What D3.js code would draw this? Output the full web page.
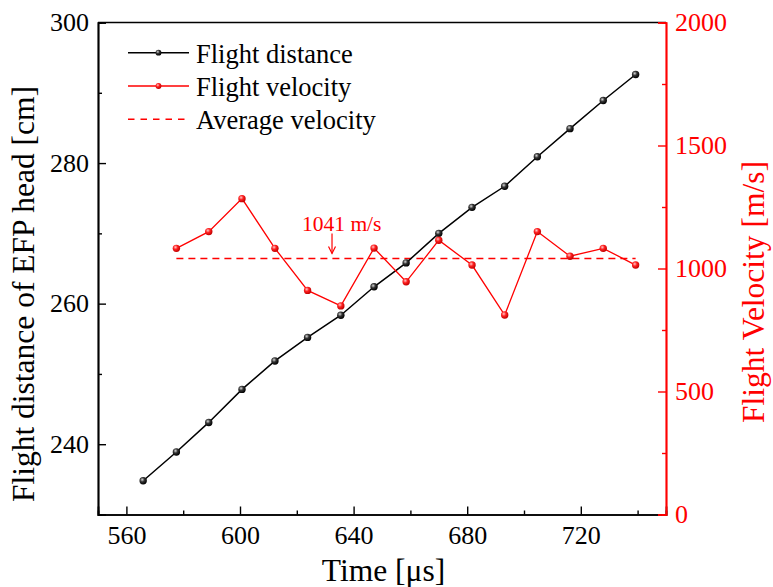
<!DOCTYPE html>
<html>
<head>
<meta charset="utf-8">
<script src="https://cdn.jsdelivr.net/npm/d3@7"></script>
<style>
  html, body { margin: 0; padding: 0; background: #fff; }
  svg { display: block; font-family: "Liberation Serif", "Times New Roman", serif; }
</style>
</head>
<body>
<svg id="chart" width="773" height="587"></svg>
<script>
// Flight time of the EFP head [μs]
const times = [565.9, 577.6, 589.0, 600.7, 612.3, 623.8, 635.5, 647.2, 658.5, 670.0, 681.7, 693.2, 704.7, 716.2, 727.9, 739.3];
// Flight distance [cm], one per time step
const distances = [234.8, 238.9, 243.1, 247.8, 251.85, 255.2, 258.35, 262.4, 265.8, 270.0, 273.7, 276.7, 280.9, 284.9, 288.9, 292.6];
// Flight velocity [m/s], from the second time step on
const velocityTimes = times.slice(1);
const velocities = [1082, 1150, 1284, 1082, 911, 848, 1083, 946, 1115, 1014, 811, 1150, 1050, 1082, 1014];
const averageVelocity = 1041;
const annotationTime = 632.4;

const xTicks = [560, 600, 640, 680, 720];
const xMinorTicks = [580, 620, 660, 700, 740];
const yLeftTicks = [240, 260, 280, 300];
const yLeftMinorTicks = [250, 270, 290];
const yRightTicks = [0, 500, 1000, 1500, 2000];
const yRightMinorTicks = [250, 750, 1250, 1750];

const legendLabels = ["Flight distance", "Flight velocity", "Average velocity"];

const RED = "#ff0000";
const svg = d3.select("#chart");
const M = { left: 98, right: 666, top: 22.5, bottom: 514.5 };

const x = d3.scaleLinear().domain([550, 750]).range([M.left, M.right]);
const yL = d3.scaleLinear().domain([230, 300]).range([M.bottom, M.top]);
const yR = d3.scaleLinear().domain([0, 2000]).range([M.bottom, M.top]);

// shaded ball markers
const defs = svg.append("defs");
function ball(id, light, mid, dark) {
  const g = defs.append("radialGradient").attr("id", id)
    .attr("cx", "38%").attr("cy", "35%").attr("r", "65%");
  g.append("stop").attr("offset", "0%").attr("stop-color", light);
  g.append("stop").attr("offset", "45%").attr("stop-color", mid);
  g.append("stop").attr("offset", "100%").attr("stop-color", dark);
}
ball("ballBlack", "#d8d8d8", "#333", "#000");
ball("ballRed", "#ffc8c8", "#ff2020", "#c00000");

const fontTick = 26;

// bottom axis
const gx = svg.append("g").attr("transform", `translate(0,${M.bottom})`)
  .call(d3.axisBottom(x).tickValues(xTicks).tickSize(-8).tickPadding(9).tickFormat(d3.format("d")));
svg.append("g").attr("transform", `translate(0,${M.bottom})`)
  .call(d3.axisBottom(x).tickValues(xMinorTicks).tickSize(-4).tickFormat(""));

// left axis
svg.append("g").attr("transform", `translate(${M.left},0)`)
  .call(d3.axisLeft(yL).tickValues(yLeftTicks).tickSize(-8).tickPadding(9).tickFormat(d3.format("d")));
svg.append("g").attr("transform", `translate(${M.left},0)`)
  .call(d3.axisLeft(yL).tickValues(yLeftMinorTicks).tickSize(-4).tickFormat(""));

// top frame line
svg.append("line").attr("x1", M.left).attr("x2", M.right).attr("y1", M.top).attr("y2", M.top)
  .attr("stroke", "#000").attr("stroke-width", 1.7);

svg.selectAll(".domain").attr("stroke", "#000").attr("stroke-width", 1.7);
svg.selectAll(".tick line").attr("stroke", "#000").attr("stroke-width", 1.4);
svg.selectAll(".tick text").attr("font-size", fontTick).attr("fill", "#000")
  .attr("font-family", "Liberation Serif, Times New Roman, serif");
gx.selectAll(".tick text").attr("dy", "0.78em");

// right axis (red)
const gyr = svg.append("g").attr("transform", `translate(${M.right},0)`)
  .call(d3.axisRight(yR).tickValues(yRightTicks).tickSize(-8).tickPadding(9).tickFormat(d3.format("d")));
const gyr2 = svg.append("g").attr("transform", `translate(${M.right},0)`)
  .call(d3.axisRight(yR).tickValues(yRightMinorTicks).tickSize(-4).tickFormat(""));
[gyr, gyr2].forEach(g => {
  g.selectAll(".domain").attr("stroke", RED).attr("stroke-width", 1.7);
  g.selectAll(".tick line").attr("stroke", RED).attr("stroke-width", 1.4);
  g.selectAll(".tick text").attr("font-size", fontTick).attr("fill", RED)
    .attr("font-family", "Liberation Serif, Times New Roman, serif");
});

// axis titles
svg.append("text").attr("x", 383.5).attr("y", 581)
  .attr("text-anchor", "middle").attr("font-size", 31.5).attr("fill", "#000")
  .text("Time [μs]");
svg.append("text").attr("transform", "translate(34,294) rotate(-90)")
  .attr("text-anchor", "middle").attr("font-size", 31.5).attr("fill", "#000")
  .text("Flight distance of EFP head [cm]");
svg.append("text").attr("transform", "translate(764,292) rotate(-90)")
  .attr("text-anchor", "middle").attr("font-size", 31.5).attr("fill", RED)
  .text("Flight Velocity [m/s]");

// average velocity line
svg.append("line")
  .attr("x1", x(velocityTimes[0])).attr("x2", x(velocityTimes[velocityTimes.length - 1]))
  .attr("y1", yR(averageVelocity)).attr("y2", yR(averageVelocity))
  .attr("stroke", RED).attr("stroke-width", 1.5).attr("stroke-dasharray", "7,5");

// distance series
const distData = times.map((t, i) => ({ t, v: distances[i] }));
svg.append("path").datum(distData)
  .attr("fill", "none").attr("stroke", "#000").attr("stroke-width", 1.5)
  .attr("d", d3.line().x(d => x(d.t)).y(d => yL(d.v)));
svg.append("g").selectAll("circle").data(distData).join("circle")
  .attr("cx", d => x(d.t)).attr("cy", d => yL(d.v)).attr("r", 3.7)
  .attr("fill", "url(#ballBlack)");

// velocity series
const velData = velocityTimes.map((t, i) => ({ t, v: velocities[i] }));
svg.append("path").datum(velData)
  .attr("fill", "none").attr("stroke", RED).attr("stroke-width", 1.3)
  .attr("d", d3.line().x(d => x(d.t)).y(d => yR(d.v)));
svg.append("g").selectAll("circle").data(velData).join("circle")
  .attr("cx", d => x(d.t)).attr("cy", d => yR(d.v)).attr("r", 3.7)
  .attr("fill", "url(#ballRed)");

// annotation for the average
const ax = x(annotationTime);
const ay = yR(averageVelocity);
svg.append("text").attr("x", ax - 30).attr("y", ay - 27)
  .attr("font-size", 21.5).attr("fill", RED).text(`${averageVelocity} m/s`);
svg.append("line").attr("x1", ax).attr("x2", ax).attr("y1", ay - 25).attr("y2", ay - 5)
  .attr("stroke", RED).attr("stroke-width", 1.2);
svg.append("path")
  .attr("d", `M${ax - 3.5},${ay - 12} L${ax},${ay - 5} L${ax + 3.5},${ay - 12}`)
  .attr("fill", "none").attr("stroke", RED).attr("stroke-width", 1.2);

// legend
const legend = svg.append("g");
const legendRows = [
  { label: legendLabels[0], color: "#000", dash: null, marker: "url(#ballBlack)" },
  { label: legendLabels[1], color: RED, dash: null, marker: "url(#ballRed)" },
  { label: legendLabels[2], color: RED, dash: "6.5,6", marker: null }
];
legendRows.forEach((r, i) => {
  const y = 52.7 + i * 33.3;
  legend.append("line").attr("x1", 128).attr("x2", 189).attr("y1", y).attr("y2", y)
    .attr("stroke", r.color).attr("stroke-width", 1.4)
    .attr("stroke-dasharray", r.dash);
  if (r.marker) {
    legend.append("circle").attr("cx", 158.5).attr("cy", y).attr("r", 2.9).attr("fill", r.marker);
  }
  legend.append("text").attr("x", 196).attr("y", y + 10)
    .attr("font-size", 26.5).attr("fill", "#000").text(r.label);
});
</script>
</body>
</html>
